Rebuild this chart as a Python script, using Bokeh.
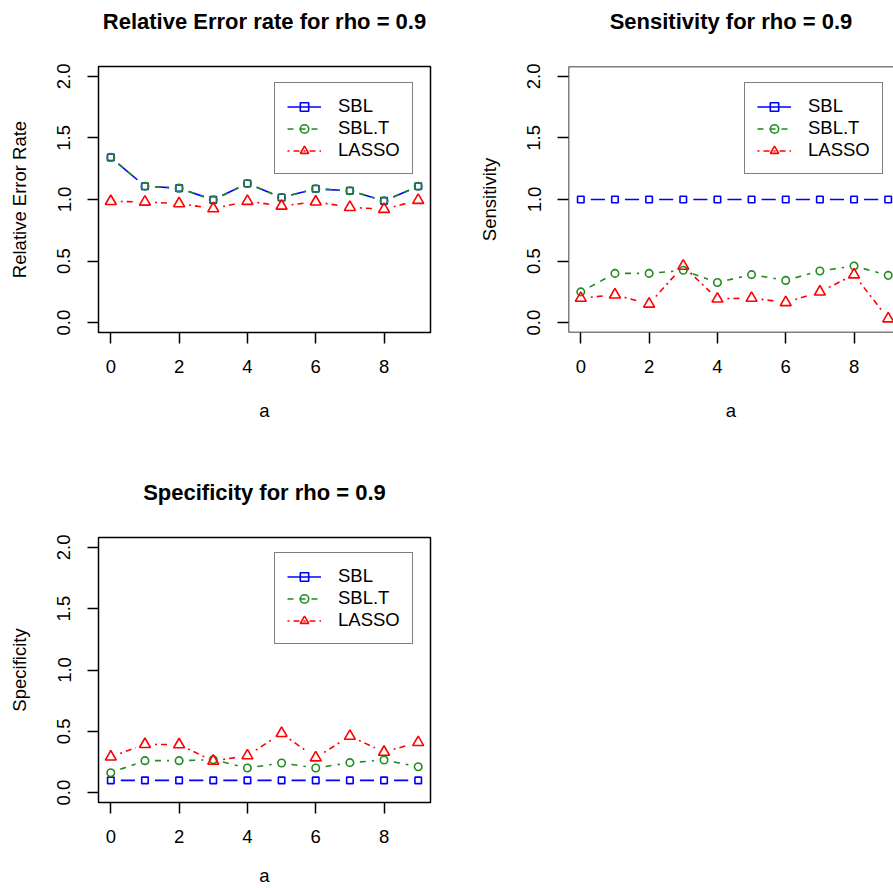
import math
from bokeh.plotting import figure
from bokeh.models import (Range1d, FixedTicker, PrintfTickFormatter, Legend,
                          LegendItem, Span, ColumnDataSource, Title)
from bokeh.layouts import column, row
from bokeh.embed import file_html
from bokeh.resources import INLINE

# ---------------- data ----------------
a_values = [0, 1, 2, 3, 4, 5, 6, 7, 8, 9]
series_names = ["SBL", "SBL.T", "LASSO"]

rel_sbl = [1.342, 1.108, 1.092, 0.997, 1.130, 1.016, 1.087, 1.071, 0.989, 1.108]
rel_sblt = [1.342, 1.108, 1.092, 0.997, 1.130, 1.016, 1.087, 1.071, 0.989, 1.108]
rel_lasso = [0.985, 0.980, 0.967, 0.926, 0.986, 0.948, 0.981, 0.937, 0.921, 0.994]

sens_sbl = [1.0, 1.0, 1.0, 1.0, 1.0, 1.0, 1.0, 1.0, 1.0, 1.0]
sens_sblt = [0.250, 0.400, 0.400, 0.425, 0.326, 0.390, 0.343, 0.420, 0.460, 0.384]
sens_lasso = [0.199, 0.226, 0.152, 0.460, 0.193, 0.199, 0.164, 0.250, 0.389, 0.032]

spec_sbl = [0.1, 0.1, 0.1, 0.1, 0.1, 0.1, 0.1, 0.1, 0.1, 0.1]
spec_sblt = [0.163, 0.261, 0.261, 0.269, 0.201, 0.242, 0.201, 0.245, 0.266, 0.212]
spec_lasso = [0.292, 0.394, 0.392, 0.258, 0.302, 0.484, 0.285, 0.461, 0.331, 0.410]

x_ticks = [0, 2, 4, 6, 8]
y_ticks = [0.0, 0.5, 1.0, 1.5, 2.0]

# ---------------- style ----------------
FONT = "Liberation Sans"
BASE = "18.5px"
colors = ["#0000FF", "#228B22", "#FF0000"]
markers = ["square", "circle", "triangle"]
msizes = [6.5, 7.5, 11]
dashes = ["solid", "6 6", "2 4 6 4"]
LW = 1.6

X0, X1 = -0.36, 9.36
Y0, Y1 = -0.08, 2.08
FRAME_W, FRAME_H = 332, 266
PX_X = FRAME_W / (X1 - X0)
PX_Y = FRAME_H / (Y1 - Y0)
GAP = 10.0          # px gap around points (type = "b")


def gapped(xs, ys):
    x0, y0, x1, y1 = [], [], [], []
    for i in range(len(xs) - 1):
        dx = xs[i + 1] - xs[i]
        dy = ys[i + 1] - ys[i]
        L = math.hypot(dx * PX_X, dy * PX_Y)
        if L <= 2 * GAP:
            continue
        f = GAP / L
        x0.append(xs[i] + f * dx)
        y0.append(ys[i] + f * dy)
        x1.append(xs[i + 1] - f * dx)
        y1.append(ys[i + 1] - f * dy)
    return dict(x0=x0, y0=y0, x1=x1, y1=y1)


def make_panel(title, ylab, series, width, height, top, bottom, right,
               clipped=False, xlab_standoff=24):
    frame_w = width - 98 - right
    xend = X0 + frame_w / PX_X
    p = figure(width=width, height=height, output_backend="svg", toolbar_location=None,
               title=None,
               x_range=Range1d(X0, xend), y_range=Range1d(Y0, Y1),
               min_border_left=98, min_border_right=right,
               min_border_top=top, min_border_bottom=bottom,
               background_fill_color="white", border_fill_color="white")
    p.grid.visible = False
    if clipped:
        p.outline_line_color = None
        for loc, dim in [(Y0, "width"), (Y1, "width"), (X0, "height")]:
            p.add_layout(Span(location=loc, dimension=dim, line_color="black", line_width=1.5))
    else:
        p.outline_line_color = "black"
        p.outline_line_width = 1.5

    # spacer (closest to the frame) then the main title above it
    p.add_layout(Title(text=" ", text_font_size="1px", standoff=28), "above")
    p.add_layout(Title(text=title, text_font=FONT, text_font_size="22px",
                       text_font_style="bold", text_color="black", align="center",
                       standoff=4), "above")

    for ax in (p.xaxis[0], p.yaxis[0]):
        ax.axis_line_color = None
        ax.major_tick_in = 0
        ax.major_tick_out = 11
        ax.major_tick_line_width = 1.5
        ax.major_tick_line_color = "black"
        ax.minor_tick_line_color = None
        ax.major_label_text_font = FONT
        ax.major_label_text_font_size = BASE
        ax.major_label_text_color = "black"
        ax.axis_label_text_font = FONT
        ax.axis_label_text_font_size = BASE
        ax.axis_label_text_font_style = "normal"
        ax.axis_label_text_color = "black"
    p.xaxis.ticker = FixedTicker(ticks=x_ticks)
    p.yaxis.ticker = FixedTicker(ticks=y_ticks)
    p.yaxis.formatter = PrintfTickFormatter(format="%.1f")
    p.yaxis.major_label_orientation = "vertical"
    p.xaxis.axis_label = "a"
    p.yaxis.axis_label = ylab
    p.xaxis.major_label_standoff = 16
    p.yaxis.major_label_standoff = 17
    p.xaxis.axis_label_standoff = xlab_standoff
    p.yaxis.axis_label_standoff = 25

    items = []
    for name, ys, c, m, s, d in zip(series_names, series, colors, markers, msizes, dashes):
        seg = p.segment("x0", "y0", "x1", "y1", source=ColumnDataSource(gapped(a_values, ys)),
                        line_color=c, line_width=LW, line_dash=d)
        sc = p.scatter(a_values, ys, marker=m, size=s, line_color=c, fill_color=None,
                       line_width=LW)
        items.append(LegendItem(label=name, renderers=[seg, sc]))

    legend = Legend(items=items, location=(176, 158), orientation="vertical",
                    padding=12, spacing=-1, margin=0,
                    glyph_width=34, glyph_height=21, label_height=21, label_standoff=17,
                    label_text_font=FONT, label_text_font_size=BASE, label_text_color="black",
                    border_line_color="black", border_line_width=1.5,
                    background_fill_color="white", background_fill_alpha=1.0)
    p.add_layout(legend)
    return p


p1 = make_panel("Relative Error rate for rho = 0.9", "Relative Error Rate",
                [rel_sbl, rel_sblt, rel_lasso], 470, 470, 66, 138, 40)
p2 = make_panel("Sensitivity for rho = 0.9", "Sensitivity",
                [sens_sbl, sens_sblt, sens_lasso], 423, 470, 66, 138, 0, clipped=True)
p3 = make_panel("Specificity for rho = 0.9", "Specificity",
                [spec_sbl, spec_sblt, spec_lasso], 470, 418, 67, 85, 40, xlab_standoff=19)

layout = column(row(p1, p2, spacing=0), p3, spacing=0)
open("out.html", "w").write(file_html(layout, INLINE))
